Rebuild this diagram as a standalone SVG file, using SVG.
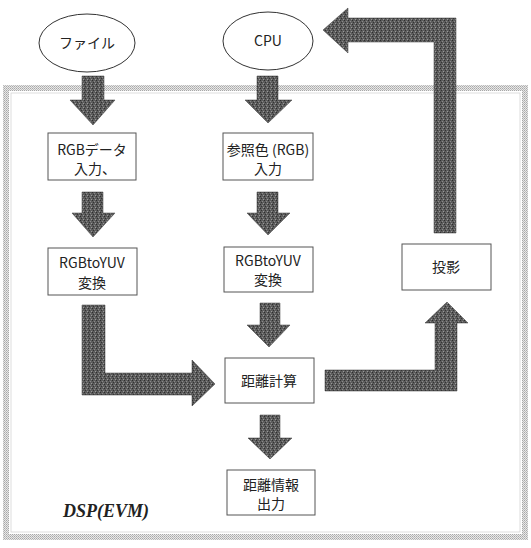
<svg xmlns="http://www.w3.org/2000/svg" width="531" height="548" viewBox="0 0 531 548">
<defs>
<pattern id="stip" width="4" height="4" patternUnits="userSpaceOnUse">
<rect width="4" height="4" fill="#5c5c5c"/>
<rect x="0" y="0" width="1" height="1" fill="#2e2e2e"/>
<rect x="2" y="1" width="1" height="1" fill="#8a8a8a"/>
<rect x="1" y="2" width="1" height="1" fill="#333"/>
<rect x="3" y="3" width="1" height="1" fill="#999"/>
</pattern>
<pattern id="hatch" width="2" height="2" patternUnits="userSpaceOnUse">
<rect width="2" height="2" fill="#e8e8e8"/>
<rect x="0" y="0" width="1" height="1" fill="#a8a8a8"/>
<rect x="1" y="1" width="1" height="1" fill="#bcbcbc"/>
</pattern>
</defs>
<style>
.t{font-family:"Noto Sans CJK JP","Noto Sans",sans-serif;font-size:14px;fill:#222;text-anchor:middle}
.box{fill:#fff;stroke:#555;stroke-width:1}
.ell{fill:#fff;stroke:#333;stroke-width:1}
.arr{fill:url(#stip);stroke:#3a3a3a;stroke-width:0.5}
</style>
<rect width="531" height="548" fill="#fff"/>
<g id="dsp-frame">
<rect x="6" y="88" width="519" height="449" fill="none" stroke="url(#hatch)" stroke-width="6"/>
<rect x="11" y="93" width="509" height="439" fill="none" stroke="#d4d4d4" stroke-width="0.8"/>
<text x="63" y="517" style="font-family:'Liberation Serif',serif;font-size:18px;font-weight:bold;font-style:italic;fill:#222">DSP(EVM)</text>
</g>
<g id="file"><ellipse class="ell" cx="87" cy="43" rx="48" ry="29"/><text class="t" x="87" y="48">ファイル</text></g>
<g id="cpu"><ellipse class="ell" cx="268" cy="41" rx="45" ry="29"/><text class="t" x="268" y="46">CPU</text></g>
<g id="rgb-in"><rect class="box" x="48" y="133" width="88" height="47"/><text class="t" x="92" y="155">RGBデータ</text><text class="t" x="95" y="174">入力、</text></g>
<g id="ref-in"><rect class="box" x="223" y="133" width="90" height="47"/><text class="t" x="268" y="155">参照色 (RGB)</text><text class="t" x="268" y="174">入力</text></g>
<g id="yuv1"><rect class="box" x="48" y="248" width="89" height="47"/><text class="t" x="92" y="268">RGBtoYUV</text><text class="t" x="92" y="288">変換</text></g>
<g id="yuv2"><rect class="box" x="224" y="247" width="89" height="45"/><text class="t" x="268" y="266">RGBtoYUV</text><text class="t" x="268" y="285">変換</text></g>
<g id="proj"><rect class="box" x="402" y="244" width="89" height="46"/><text class="t" x="446" y="272">投影</text></g>
<g id="dist"><rect class="box" x="225" y="358" width="89" height="45"/><text class="t" x="269" y="386">距離計算</text></g>
<g id="out"><rect class="box" x="227" y="470" width="88" height="45"/><text class="t" x="271" y="490">距離情報</text><text class="t" x="271" y="509">出力</text></g>
<g id="connectors">
<path class="arr" d="M82,76 H104 V100 H115 L93,125 L70,100 H82 Z"/>
<path class="arr" d="M257,76 H278 V100 H292 L268,123 L245,100 H257 Z"/>
<path class="arr" d="M82,192 H103 V213 H115 L93,237 L72,213 H82 Z"/>
<path class="arr" d="M257,192 H278 V213 H290 L268,235 L247,213 H257 Z"/>
<path class="arr" d="M260,303 H280 V325 H290 L269,347 L247,325 H260 Z"/>
<path class="arr" d="M260,415 H280 V438 H292 L270,459 L248,438 H260 Z"/>
<path class="arr" d="M82,305 H105 V373 H192 V360 L215,384 L192,406 V395 H82 Z"/>
<path class="arr" d="M325,370 H435 V323 H425 L447,302 L468,323 H457 V391 H325 Z"/>
<path class="arr" d="M434,233 V42 H348 V53 L323,30 L348,8 V18 H456 V233 Z"/>
</g>
</svg>
